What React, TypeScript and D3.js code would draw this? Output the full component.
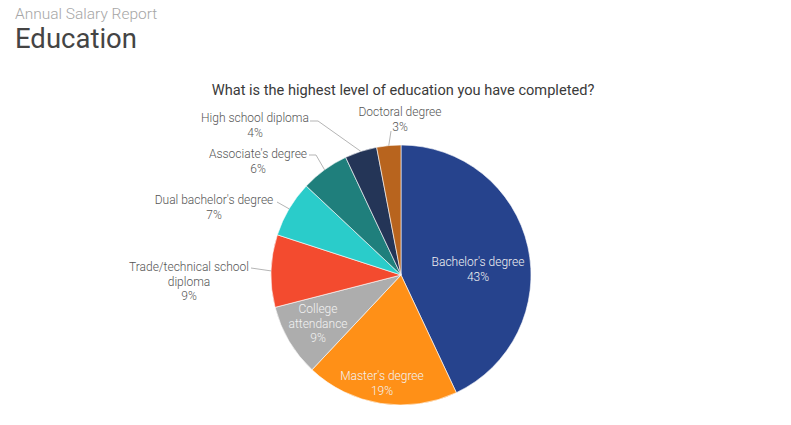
import React from 'react';
import * as d3 from 'd3';

// data, clockwise from 12 o'clock
const categories = [
  "Bachelor's degree",
  "Master's degree",
  'College attendance',
  'Trade/technical school diploma',
  "Dual bachelor's degree",
  "Associate's degree",
  'High school diploma',
  'Doctoral degree',
];
const shares = [43, 19, 9, 9, 7, 6, 4, 3];
const sliceColors = ['#243f84', '#f48716', '#a2a2a2', '#e4462c', '#27bfbd', '#1d7774', '#223252', '#ad5e1c'];

// label text split into lines (same order as categories)
const labelLines = [
  ["Bachelor's degree"],
  ["Master's degree"],
  ['College', 'attendance'],
  ['Trade/technical school', 'diploma'],
  ["Dual bachelor's degree"],
  ["Associate's degree"],
  ['High school diploma'],
  ['Doctoral degree'],
];

const W = 791;
const H = 425;
const cx = 401;
const cy = 275;
const R = 130;
const lineH = 14.5;

// label placement: [x, first line center y, inside?, leader end x, leader end y, elbow x]
const labelLayout: [number, number, boolean, number, number, number | null][] = [
  [478, 262, true, 0, 0, null],
  [382, 376, true, 0, 0, null],
  [318, 309, true, 0, 0, null],
  [189, 267, false, 251, 268, null],
  [214, 200, false, 277, 202, null],
  [258, 154, false, 309, 155, 316],
  [255, 118, false, 310, 121, 318],
  [400, 112, false, 391, 131, null],
];

export default function App() {
  const pie = d3.pie<number>().sort(null).value((d) => d);
  const arcs = pie(shares);
  const arc = d3.arc<d3.PieArcDatum<number>>().innerRadius(0).outerRadius(R);

  return (
    <svg
      width={W}
      height={H}
      style={{ position: 'absolute', left: 0, top: 0, background: '#fff' }}
      fontFamily="Roboto, 'Noto Sans', sans-serif"
    >
      <defs>
        {sliceColors.map((c, i) => (
          <linearGradient
            key={i}
            id={`g${i}`}
            gradientUnits="userSpaceOnUse"
            x1={cx - R * 0.4}
            y1={cy - R}
            x2={cx + R * 0.4}
            y2={cy + R}
          >
            <stop offset="0%" stopColor={d3.color(c)!.brighter(0.18).formatHex()} />
            <stop offset="100%" stopColor={d3.color(c)!.darker(0.12).formatHex()} />
          </linearGradient>
        ))}
      </defs>

      <text x={15} y={19} fontSize={15.5} fontWeight={300} fill="#a6a6a6">
        Annual Salary Report
      </text>
      <text x={15} y={48} fontSize={27.5} fontWeight={400} fill="#444">
        Education
      </text>

      <text x={403} y={95} fontSize={14.6} textAnchor="middle" fill="#3a3a3a">
        What is the highest level of education you have completed?
      </text>

      <g transform={`translate(${cx},${cy})`}>
        {arcs.map((a, i) => (
          <path key={i} d={arc(a) ?? ''} fill={`url(#g${i})`} stroke="#fff" strokeWidth={0.6} />
        ))}
      </g>

      {arcs.map((a, i) => {
        const [, , inside, ex, ey, elbow] = labelLayout[i];
        if (inside) return null;
        const mid = (a.startAngle + a.endAngle) / 2;
        const px = cx + R * Math.sin(mid);
        const py = cy - R * Math.cos(mid);
        const pts = elbow !== null ? [[ex, ey], [elbow, ey], [px, py]] : [[ex, ey], [px, py]];
        return (
          <polyline
            key={`l${i}`}
            points={pts.map((p) => p.join(',')).join(' ')}
            fill="none"
            stroke="#b5b5b5"
            strokeWidth={1}
          />
        );
      })}

      {arcs.map((a, i) => {
        const [lx, ly, inside] = labelLayout[i];
        const lines = [...labelLines[i], `${shares[i]}%`];
        return (
          <text
            key={`t${i}`}
            x={lx}
            y={ly}
            fontSize={12}
            fontWeight={300}
            textAnchor="middle"
            fill={inside ? '#f2f2f2' : '#555'}
          >
            {lines.map((s, j) => (
              <tspan key={j} x={lx} y={ly + j * lineH + 4}>
                {s}
              </tspan>
            ))}
          </text>
        );
      })}
    </svg>
  );
}
